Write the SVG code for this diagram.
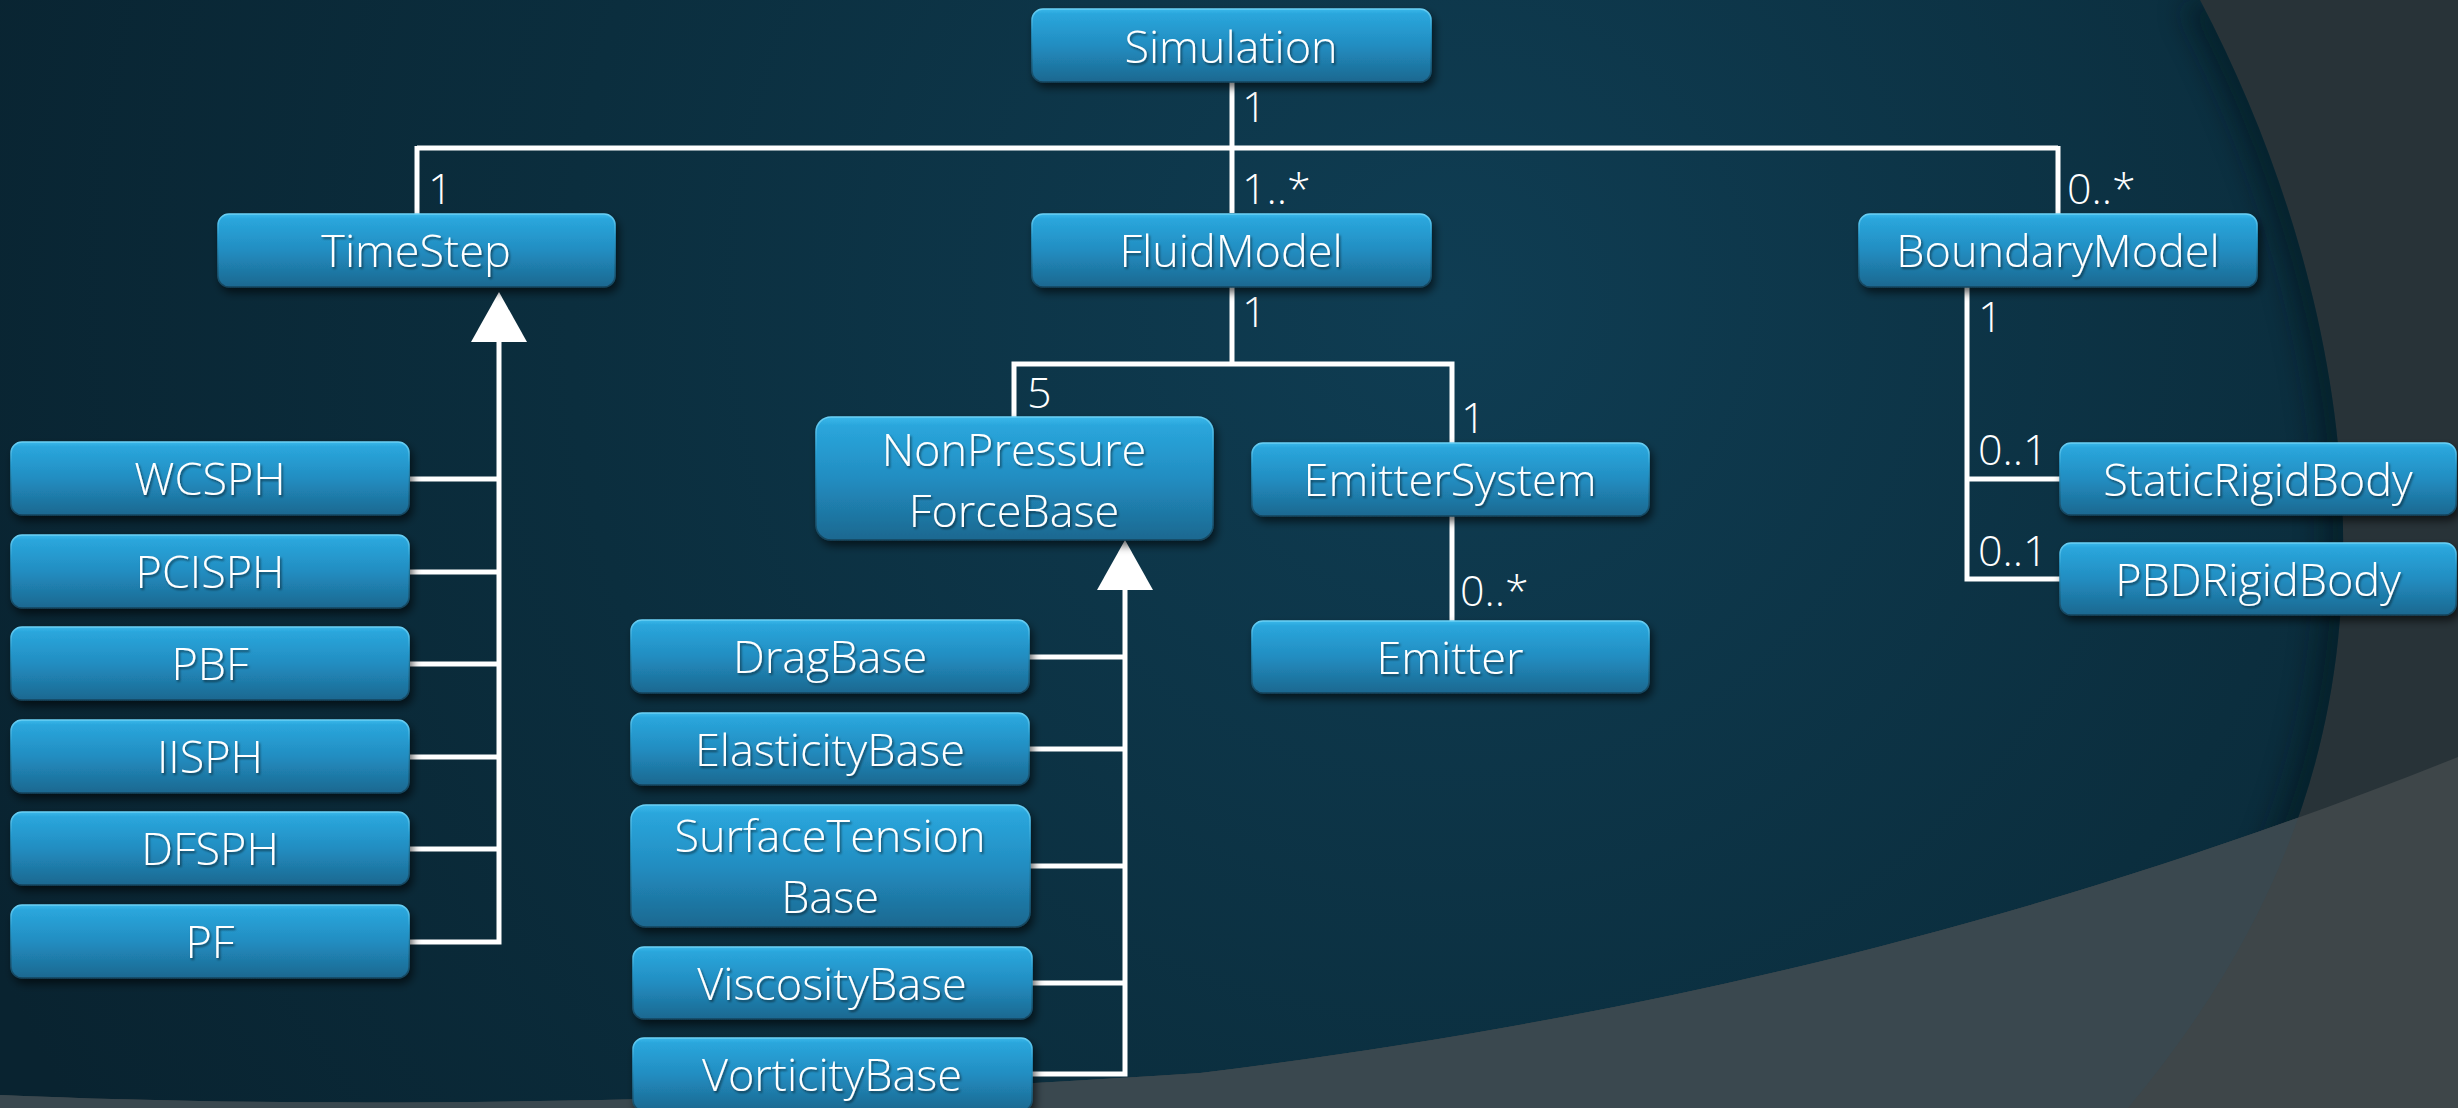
<svg xmlns="http://www.w3.org/2000/svg" width="2458" height="1108" viewBox="0 0 2458 1108">
<defs>
  <radialGradient id="bgTeal" gradientUnits="userSpaceOnUse" cx="1450" cy="300" r="1600">
    <stop offset="0" stop-color="#0f3d53"/>
    <stop offset="0.55" stop-color="#0b2e3e"/>
    <stop offset="1" stop-color="#092330"/>
  </radialGradient>
  <linearGradient id="boxFill" x1="0" y1="0" x2="0" y2="1">
    <stop offset="0" stop-color="#3ab8ea"/>
    <stop offset="0.07" stop-color="#2aa6dc"/>
    <stop offset="0.5" stop-color="#228dc1"/>
    <stop offset="1" stop-color="#1c6890"/>
  </linearGradient>
  <linearGradient id="boxStroke" x1="0" y1="0" x2="0" y2="1">
    <stop offset="0" stop-color="#6ad0f5"/>
    <stop offset="0.3" stop-color="#2a9fd2"/>
    <stop offset="1" stop-color="#16445c"/>
  </linearGradient>
  <filter id="shadow" x="-10%" y="-20%" width="125%" height="160%">
    <feDropShadow dx="3" dy="5" stdDeviation="4" flood-color="#000000" flood-opacity="0.6"/>
  </filter>
  <filter id="tshadow" x="-10%" y="-30%" width="120%" height="160%">
    <feDropShadow dx="1.5" dy="2" stdDeviation="1" flood-color="#000000" flood-opacity="0.5"/>
  </filter>
  <filter id="blur20"><feGaussianBlur stdDeviation="14"/></filter>
  <clipPath id="darkClip">
    <path d="M0,0 L2200,0 C2300,190 2362,420 2338,640 C2318,830 2235,980 2128,1108 L0,1108 Z"/>
  </clipPath>
  <style>
    .box { fill: url(#boxFill); stroke: url(#boxStroke); stroke-width: 1.5; filter: url(#shadow); }
    .lbl { font-family: "Open Sans", "Liberation Sans", sans-serif; font-weight: 300; font-size: 45px; fill: #ffffff; text-anchor: middle; filter: url(#tshadow); }
    .mult { font-family: "Open Sans", "Liberation Sans", sans-serif; font-weight: 300; font-size: 43px; fill: #ffffff; }
    .wire { fill: none; stroke: #ffffff; stroke-width: 5; stroke-linejoin: miter; stroke-linecap: butt; }
    .tri { fill: #ffffff; stroke: none; }
  </style>
</defs>

<!-- background -->
<rect x="0" y="0" width="2458" height="1108" fill="#283338"/>
<path d="M0,0 L2200,0 C2300,190 2362,420 2338,640 C2318,830 2235,980 2128,1108 L0,1108 Z" fill="url(#bgTeal)"/>
<g clip-path="url(#darkClip)">
  <path d="M2200,0 C2300,190 2362,420 2338,640 C2318,830 2235,980 2128,1108" fill="none" stroke="#03141c" stroke-width="40" opacity="0.55" filter="url(#blur20)"/>
</g>
<path d="M0,1095 C300,1108 700,1106 1200,1073 C1700,1012 2100,900 2458,757 L2458,1108 L0,1108 Z" fill="#3e4649"/>
<g clip-path="url(#darkClip)">
  <path d="M0,1095 C300,1108 700,1106 1200,1073 C1700,1012 2100,900 2458,757 L2458,1108 L0,1108 Z" fill="#3a484f"/>
</g>

<!-- connectors -->
<g id="connectors">
  <path class="wire" d="M1232,82 V148"/>
  <path class="wire" d="M417,148 H2058"/>
  <path class="wire" d="M417,146 V214"/>
  <path class="wire" d="M1232,148 V213"/>
  <path class="wire" d="M2058,146 V214"/>
  <path class="wire" d="M1232,287 V364"/>
  <path class="wire" d="M1014,417 V364 H1452 V443"/>
  <path class="wire" d="M1452,516 V621"/>
  <path class="wire" d="M1967,287 V579 H2060"/>
  <path class="wire" d="M1967,479 H2060"/>
  <!-- TimeStep generalization -->
  <path class="wire" d="M499,340 V942 H410"/>
  <path class="wire" d="M410,479 H499 M410,572 H499 M410,664 H499 M410,757 H499 M410,849 H499"/>
  <polygon class="tri" points="499,292 527,342 471,342"/>
  <!-- NonPressure generalization -->
  <path class="wire" d="M1125,588 V1074 H1032"/>
  <path class="wire" d="M1029,657 H1125 M1029,749 H1125 M1030,866 H1125 M1032,983 H1125"/>
  <polygon class="tri" points="1125,540 1153,590 1097,590"/>
  <!-- multiplicities -->
  <text class="mult" x="1242" y="122">1</text>
  <text class="mult" x="428" y="204">1</text>
  <text class="mult" x="1242" y="204">1..*</text>
  <text class="mult" x="2067" y="204">0..*</text>
  <text class="mult" x="1242" y="327">1</text>
  <text class="mult" x="1027" y="408">5</text>
  <text class="mult" x="1461" y="433">1</text>
  <text class="mult" x="1460" y="606">0..*</text>
  <text class="mult" x="1978" y="332">1</text>
  <text class="mult" x="1978" y="465">0..1</text>
  <text class="mult" x="1978" y="566">0..1</text>
</g>

<!-- nodes -->
<g id="Simulation"><rect class="box" x="1032" y="9" width="399" height="73" rx="11"/><text class="lbl" x="1231" y="63">Simulation</text></g>
<g id="TimeStep"><rect class="box" x="218" y="214" width="397" height="73" rx="11"/><text class="lbl" x="416" y="267">TimeStep</text></g>
<g id="FluidModel"><rect class="box" x="1032" y="214" width="399" height="73" rx="11"/><text class="lbl" x="1231" y="267">FluidModel</text></g>
<g id="BoundaryModel"><rect class="box" x="1859" y="214" width="398" height="73" rx="11"/><text class="lbl" x="2058" y="267">BoundaryModel</text></g>

<g id="WCSPH"><rect class="box" x="11" y="442" width="398" height="73" rx="11"/><text class="lbl" x="210" y="495">WCSPH</text></g>
<g id="PCISPH"><rect class="box" x="11" y="535" width="398" height="73" rx="11"/><text class="lbl" x="210" y="588">PCISPH</text></g>
<g id="PBF"><rect class="box" x="11" y="627" width="398" height="73" rx="11"/><text class="lbl" x="210" y="680">PBF</text></g>
<g id="IISPH"><rect class="box" x="11" y="720" width="398" height="73" rx="11"/><text class="lbl" x="210" y="773">IISPH</text></g>
<g id="DFSPH"><rect class="box" x="11" y="812" width="398" height="73" rx="11"/><text class="lbl" x="210" y="865">DFSPH</text></g>
<g id="PF"><rect class="box" x="11" y="905" width="398" height="73" rx="11"/><text class="lbl" x="210" y="958">PF</text></g>

<g id="NonPressureForceBase"><rect class="box" x="816" y="417" width="397" height="123" rx="15"/><text class="lbl" x="1014" y="466">NonPressure</text><text class="lbl" x="1014" y="527">ForceBase</text></g>
<g id="EmitterSystem"><rect class="box" x="1252" y="443" width="397" height="73" rx="11"/><text class="lbl" x="1450" y="496">EmitterSystem</text></g>
<g id="Emitter"><rect class="box" x="1252" y="621" width="397" height="72" rx="11"/><text class="lbl" x="1450" y="674">Emitter</text></g>

<g id="DragBase"><rect class="box" x="631" y="620" width="398" height="73" rx="11"/><text class="lbl" x="830" y="673">DragBase</text></g>
<g id="ElasticityBase"><rect class="box" x="631" y="713" width="398" height="72" rx="11"/><text class="lbl" x="830" y="766">ElasticityBase</text></g>
<g id="SurfaceTensionBase"><rect class="box" x="631" y="805" width="399" height="122" rx="15"/><text class="lbl" x="830" y="852">SurfaceTension</text><text class="lbl" x="830" y="913">Base</text></g>
<g id="ViscosityBase"><rect class="box" x="633" y="947" width="399" height="72" rx="11"/><text class="lbl" x="832" y="1000">ViscosityBase</text></g>
<g id="VorticityBase"><rect class="box" x="633" y="1038" width="399" height="73" rx="11"/><text class="lbl" x="832" y="1091">VorticityBase</text></g>

<g id="StaticRigidBody"><rect class="box" x="2060" y="443" width="396" height="72" rx="11"/><text class="lbl" x="2258" y="496">StaticRigidBody</text></g>
<g id="PBDRigidBody"><rect class="box" x="2060" y="543" width="396" height="72" rx="11"/><text class="lbl" x="2258" y="596">PBDRigidBody</text></g>
</svg>
